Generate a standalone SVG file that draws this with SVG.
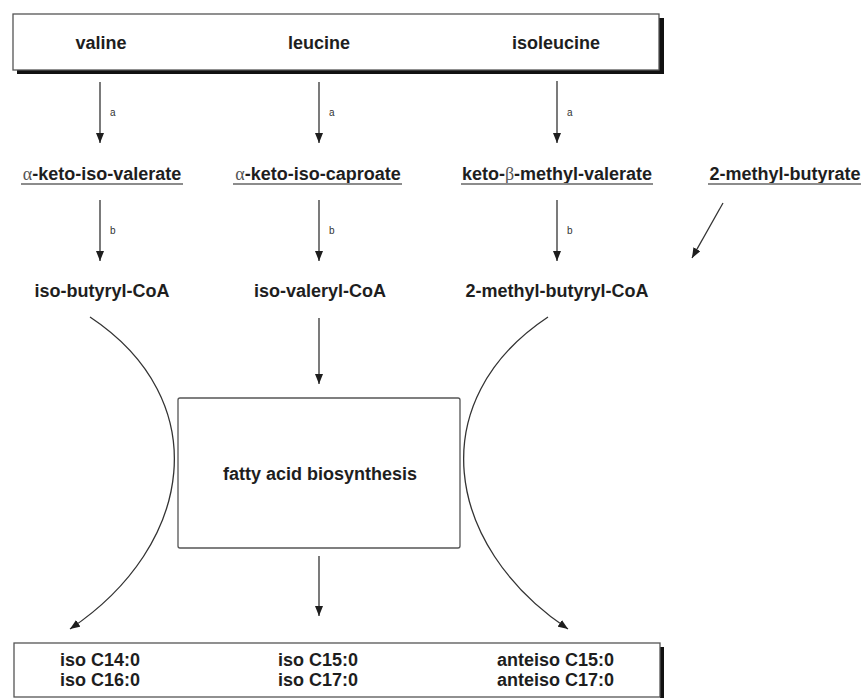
<svg xmlns="http://www.w3.org/2000/svg" width="864" height="698" viewBox="0 0 864 698">
<defs>
<style>
.t{font-family:"Liberation Sans",Arial,sans-serif;font-weight:bold;font-size:18px;fill:#1e1e1e;text-anchor:middle}
.ts{text-anchor:start}
.g{font-family:"Liberation Serif","DejaVu Serif",serif;font-weight:normal;fill:#555}
.lbl{font-family:"Liberation Sans",Arial,sans-serif;font-size:10px;fill:#333}
.ln{stroke:#333;stroke-width:1.3;fill:none}
.ul{stroke:#8c8c8c;stroke-width:2}
.box{fill:#fff;stroke:#555;stroke-width:1.3}
</style>
<marker id="ah" markerUnits="userSpaceOnUse" markerWidth="10" markerHeight="8" refX="10" refY="4" orient="auto">
<path d="M0,0 L10,4 L0,8 z" fill="#1e1e1e"/>
</marker>
</defs>
<rect width="864" height="698" fill="#fff"/>

<g id="amino-acids">
<rect x="17" y="18" width="647" height="56" fill="#111"/>
<rect class="box" x="13" y="14" width="646" height="56"/>
<text class="t" x="101" y="49">valine</text>
<text class="t" x="319" y="49">leucine</text>
<text class="t" x="556" y="49">isoleucine</text>
</g>

<g id="keto-iso-valerate">
<text class="t" x="102" y="180"><tspan class="g">α</tspan>-keto-iso-valerate</text>
<line class="ul" x1="21" y1="184" x2="183" y2="184"/>
</g>
<g id="keto-iso-caproate">
<text class="t" x="318" y="180"><tspan class="g">α</tspan>-keto-iso-caproate</text>
<line class="ul" x1="233" y1="184" x2="402" y2="184"/>
</g>
<g id="keto-methyl-valerate">
<text class="t" x="557" y="180">keto-<tspan class="g">β</tspan>-methyl-valerate</text>
<line class="ul" x1="461" y1="184" x2="653" y2="184"/>
</g>
<g id="methyl-butyrate">
<text class="t" x="785" y="180">2-methyl-butyrate</text>
<line class="ul" x1="708" y1="184" x2="861" y2="184"/>
</g>

<g id="iso-butyryl-CoA"><text class="t" x="102" y="297">iso-butyryl-CoA</text></g>
<g id="iso-valeryl-CoA"><text class="t" x="320" y="297">iso-valeryl-CoA</text></g>
<g id="methyl-butyryl-CoA"><text class="t" x="557" y="297">2-methyl-butyryl-CoA</text></g>

<g id="fatty-acid-biosynthesis">
<rect class="box" x="178" y="398" width="282" height="150" rx="2"/>
<text class="t" x="320" y="480">fatty acid biosynthesis</text>
</g>

<g id="fatty-acids">
<rect x="660" y="647" width="4" height="51" fill="#111"/>
<rect class="box" x="14" y="643" width="646" height="54"/>
<text class="t ts" x="60" y="666">iso C14:0</text>
<text class="t ts" x="60" y="686">iso C16:0</text>
<text class="t ts" x="278" y="666">iso C15:0</text>
<text class="t ts" x="278" y="686">iso C17:0</text>
<text class="t ts" x="497" y="666">anteiso C15:0</text>
<text class="t ts" x="497" y="686">anteiso C17:0</text>
</g>

<g id="connectors">
<line class="ln" x1="100" y1="82" x2="100" y2="143" marker-end="url(#ah)"/>
<line class="ln" x1="319" y1="82" x2="319" y2="143" marker-end="url(#ah)"/>
<line class="ln" x1="557" y1="81" x2="557" y2="143" marker-end="url(#ah)"/>
<text class="lbl" x="110" y="116">a</text>
<text class="lbl" x="329" y="116">a</text>
<text class="lbl" x="567" y="116">a</text>
<line class="ln" x1="100" y1="200" x2="100" y2="261" marker-end="url(#ah)"/>
<line class="ln" x1="319" y1="200" x2="319" y2="261" marker-end="url(#ah)"/>
<line class="ln" x1="557" y1="200" x2="557" y2="261" marker-end="url(#ah)"/>
<text class="lbl" x="110" y="234">b</text>
<text class="lbl" x="329" y="234">b</text>
<text class="lbl" x="567" y="234">b</text>
<line class="ln" x1="723" y1="203" x2="692" y2="258" marker-end="url(#ah)"/>
<line class="ln" x1="319" y1="318" x2="319" y2="384" marker-end="url(#ah)"/>
<line class="ln" x1="319" y1="556" x2="319" y2="616" marker-end="url(#ah)"/>
<path class="ln" d="M90,317 C215,400 195,545 70,629" marker-end="url(#ah)"/>
<path class="ln" d="M548,317 C423,400 443,545 568,629" marker-end="url(#ah)"/>
</g>
</svg>
